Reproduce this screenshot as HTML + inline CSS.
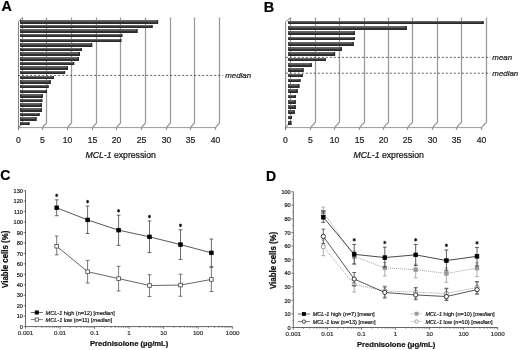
<!DOCTYPE html>
<html><head><meta charset="utf-8"><style>html,body{margin:0;padding:0;background:#fff;}svg text{stroke-width:0.22px;}svg{display:block;will-change:transform;font-family:"Liberation Sans",sans-serif;}</style></head>
<body>
<svg width="520" height="350" viewBox="0 0 520 350" font-family="Liberation Sans, sans-serif">
<defs><filter id="soft" x="0" y="0" width="100%" height="100%" filterUnits="userSpaceOnUse"><feGaussianBlur stdDeviation="0.35"/></filter><linearGradient id="bg" x1="0" y1="0" x2="0" y2="1"><stop offset="0" stop-color="#626262"/><stop offset="0.3" stop-color="#6a6a6a"/><stop offset="0.5" stop-color="#3a3a3a"/><stop offset="0.75" stop-color="#262626"/><stop offset="1" stop-color="#333"/></linearGradient></defs>
<rect width="520" height="350" fill="#fff"/>
<g filter="url(#soft)">
<text x="1.50" y="10.60" font-size="14.3" text-anchor="start" font-weight="bold" font-style="normal" fill="#000" stroke="#000" >A</text>
<text x="263.80" y="12.40" font-size="14.5" text-anchor="start" font-weight="bold" font-style="normal" fill="#000" stroke="#000" >B</text>
<text x="0.20" y="180.10" font-size="14" text-anchor="start" font-weight="bold" font-style="normal" fill="#000" stroke="#000" >C</text>
<text x="266.00" y="180.80" font-size="14" text-anchor="start" font-weight="bold" font-style="normal" fill="#000" stroke="#000" >D</text>
<polyline points="22.50,17.5 22.50,122.9 18.50,127.6 18.50,130.1" fill="none" stroke="#9a9a9a" stroke-width="1.25"/>
<text x="18.50" y="143.00" font-size="8.6" text-anchor="middle" font-weight="normal" font-style="normal" fill="#222" stroke="#222" >0</text>
<polyline points="46.50,17.5 46.50,122.9 42.50,127.6 42.50,130.1" fill="none" stroke="#9a9a9a" stroke-width="1.25"/>
<text x="42.50" y="143.00" font-size="8.6" text-anchor="middle" font-weight="normal" font-style="normal" fill="#222" stroke="#222" >5</text>
<polyline points="71.50,17.5 71.50,122.9 67.50,127.6 67.50,130.1" fill="none" stroke="#9a9a9a" stroke-width="1.25"/>
<text x="67.50" y="143.00" font-size="8.6" text-anchor="middle" font-weight="normal" font-style="normal" fill="#222" stroke="#222" >10</text>
<polyline points="96.50,17.5 96.50,122.9 92.50,127.6 92.50,130.1" fill="none" stroke="#9a9a9a" stroke-width="1.25"/>
<text x="92.50" y="143.00" font-size="8.6" text-anchor="middle" font-weight="normal" font-style="normal" fill="#222" stroke="#222" >15</text>
<polyline points="120.50,17.5 120.50,122.9 116.50,127.6 116.50,130.1" fill="none" stroke="#9a9a9a" stroke-width="1.25"/>
<text x="116.50" y="143.00" font-size="8.6" text-anchor="middle" font-weight="normal" font-style="normal" fill="#222" stroke="#222" >20</text>
<polyline points="145.50,17.5 145.50,122.9 141.50,127.6 141.50,130.1" fill="none" stroke="#9a9a9a" stroke-width="1.25"/>
<text x="141.50" y="143.00" font-size="8.6" text-anchor="middle" font-weight="normal" font-style="normal" fill="#222" stroke="#222" >25</text>
<polyline points="170.50,17.5 170.50,122.9 166.50,127.6 166.50,130.1" fill="none" stroke="#9a9a9a" stroke-width="1.25"/>
<text x="166.50" y="143.00" font-size="8.6" text-anchor="middle" font-weight="normal" font-style="normal" fill="#222" stroke="#222" >30</text>
<polyline points="194.50,17.5 194.50,122.9 190.50,127.6 190.50,130.1" fill="none" stroke="#9a9a9a" stroke-width="1.25"/>
<text x="190.50" y="143.00" font-size="8.6" text-anchor="middle" font-weight="normal" font-style="normal" fill="#222" stroke="#222" >35</text>
<polyline points="219.50,17.5 219.50,122.9 215.50,127.6 215.50,130.1" fill="none" stroke="#9a9a9a" stroke-width="1.25"/>
<text x="215.50" y="143.00" font-size="8.6" text-anchor="middle" font-weight="normal" font-style="normal" fill="#222" stroke="#222" >40</text>
<line x1="18.20" y1="127.60" x2="215.00" y2="127.60" stroke="#9a9a9a" stroke-width="1" />
<polyline points="22.40,17.5 18.50,21.6 18.50,130.1" fill="none" stroke="#777" stroke-width="0.9"/>
<rect x="20.20" y="20" width="137.90" height="4" fill="url(#bg)"/>
<rect x="156.90" y="20" width="1.2" height="4" fill="#2a2a2a"/>
<rect x="20.20" y="20" width="1.0" height="4" fill="#2a2a2a"/>
<rect x="20.20" y="25" width="132.40" height="3" fill="url(#bg)"/>
<rect x="151.40" y="25" width="1.2" height="3" fill="#2a2a2a"/>
<rect x="20.20" y="25" width="1.0" height="3" fill="#2a2a2a"/>
<rect x="20.20" y="29" width="117.30" height="4" fill="url(#bg)"/>
<rect x="136.30" y="29" width="1.2" height="4" fill="#2a2a2a"/>
<rect x="20.20" y="29" width="1.0" height="4" fill="#2a2a2a"/>
<rect x="20.20" y="34" width="102.10" height="3" fill="url(#bg)"/>
<rect x="121.10" y="34" width="1.2" height="3" fill="#2a2a2a"/>
<rect x="20.20" y="34" width="1.0" height="3" fill="#2a2a2a"/>
<rect x="20.20" y="39" width="101.10" height="3" fill="url(#bg)"/>
<rect x="120.10" y="39" width="1.2" height="3" fill="#2a2a2a"/>
<rect x="20.20" y="39" width="1.0" height="3" fill="#2a2a2a"/>
<rect x="20.20" y="43" width="72.00" height="4" fill="url(#bg)"/>
<rect x="91.00" y="43" width="1.2" height="4" fill="#2a2a2a"/>
<rect x="20.20" y="43" width="1.0" height="4" fill="#2a2a2a"/>
<rect x="20.20" y="48" width="61.60" height="3" fill="url(#bg)"/>
<rect x="80.60" y="48" width="1.2" height="3" fill="#2a2a2a"/>
<rect x="20.20" y="48" width="1.0" height="3" fill="#2a2a2a"/>
<rect x="20.20" y="52" width="59.80" height="4" fill="url(#bg)"/>
<rect x="78.80" y="52" width="1.2" height="4" fill="#2a2a2a"/>
<rect x="20.20" y="52" width="1.0" height="4" fill="#2a2a2a"/>
<rect x="20.20" y="57" width="58.80" height="4" fill="url(#bg)"/>
<rect x="77.80" y="57" width="1.2" height="4" fill="#2a2a2a"/>
<rect x="20.20" y="57" width="1.0" height="4" fill="#2a2a2a"/>
<rect x="20.20" y="62" width="54.00" height="3" fill="url(#bg)"/>
<rect x="73.00" y="62" width="1.2" height="3" fill="#2a2a2a"/>
<rect x="20.20" y="62" width="1.0" height="3" fill="#2a2a2a"/>
<rect x="20.20" y="66" width="47.80" height="4" fill="url(#bg)"/>
<rect x="66.80" y="66" width="1.2" height="4" fill="#2a2a2a"/>
<rect x="20.20" y="66" width="1.0" height="4" fill="#2a2a2a"/>
<rect x="20.20" y="71" width="44.90" height="3" fill="url(#bg)"/>
<rect x="63.90" y="71" width="1.2" height="3" fill="#2a2a2a"/>
<rect x="20.20" y="71" width="1.0" height="3" fill="#2a2a2a"/>
<rect x="20.20" y="76" width="33.80" height="3" fill="url(#bg)"/>
<rect x="52.80" y="76" width="1.2" height="3" fill="#2a2a2a"/>
<rect x="20.20" y="76" width="1.0" height="3" fill="#2a2a2a"/>
<rect x="20.20" y="80" width="30.50" height="4" fill="url(#bg)"/>
<rect x="49.50" y="80" width="1.2" height="4" fill="#2a2a2a"/>
<rect x="20.20" y="80" width="1.0" height="4" fill="#2a2a2a"/>
<rect x="20.20" y="85" width="28.40" height="3" fill="url(#bg)"/>
<rect x="47.40" y="85" width="1.2" height="3" fill="#2a2a2a"/>
<rect x="20.20" y="85" width="1.0" height="3" fill="#2a2a2a"/>
<rect x="20.20" y="90" width="26.70" height="3" fill="url(#bg)"/>
<rect x="45.70" y="90" width="1.2" height="3" fill="#2a2a2a"/>
<rect x="20.20" y="90" width="1.0" height="3" fill="#2a2a2a"/>
<rect x="20.20" y="94" width="22.60" height="4" fill="url(#bg)"/>
<rect x="41.60" y="94" width="1.2" height="4" fill="#2a2a2a"/>
<rect x="20.20" y="94" width="1.0" height="4" fill="#2a2a2a"/>
<rect x="20.20" y="99" width="22.10" height="3" fill="url(#bg)"/>
<rect x="41.10" y="99" width="1.2" height="3" fill="#2a2a2a"/>
<rect x="20.20" y="99" width="1.0" height="3" fill="#2a2a2a"/>
<rect x="20.20" y="103" width="21.70" height="4" fill="url(#bg)"/>
<rect x="40.70" y="103" width="1.2" height="4" fill="#2a2a2a"/>
<rect x="20.20" y="103" width="1.0" height="4" fill="#2a2a2a"/>
<rect x="20.20" y="108" width="21.70" height="4" fill="url(#bg)"/>
<rect x="40.70" y="108" width="1.2" height="4" fill="#2a2a2a"/>
<rect x="20.20" y="108" width="1.0" height="4" fill="#2a2a2a"/>
<rect x="20.20" y="113" width="19.40" height="3" fill="url(#bg)"/>
<rect x="38.40" y="113" width="1.2" height="3" fill="#2a2a2a"/>
<rect x="20.20" y="113" width="1.0" height="3" fill="#2a2a2a"/>
<rect x="20.20" y="117" width="16.30" height="4" fill="url(#bg)"/>
<rect x="35.30" y="117" width="1.2" height="4" fill="#2a2a2a"/>
<rect x="20.20" y="117" width="1.0" height="4" fill="#2a2a2a"/>
<rect x="20.20" y="122" width="9.30" height="3" fill="url(#bg)"/>
<rect x="28.30" y="122" width="1.2" height="3" fill="#2a2a2a"/>
<rect x="20.20" y="122" width="1.0" height="3" fill="#2a2a2a"/>
<line x1="18.20" y1="75.4" x2="223.20" y2="75.4" stroke="#333" stroke-width="0.8" stroke-dasharray="2,2"/>
<text x="225.20" y="78.00" font-size="7.9" text-anchor="start" font-weight="normal" font-style="italic" fill="#222" stroke="#222" >median</text>
<text x="85.40" y="158.20" font-size="8.7" text-anchor="start" font-weight="normal" font-style="normal" fill="#111" stroke="#111" ><tspan font-style="italic">MCL-1</tspan> expression</text>
<polyline points="290.50,17.6 290.50,122.3 285.50,127.6 285.50,130.1" fill="none" stroke="#9a9a9a" stroke-width="1.25"/>
<text x="285.50" y="143.00" font-size="8.6" text-anchor="middle" font-weight="normal" font-style="normal" fill="#222" stroke="#222" >0</text>
<polyline points="315.50,17.6 315.50,122.3 310.50,127.6 310.50,130.1" fill="none" stroke="#9a9a9a" stroke-width="1.25"/>
<text x="310.50" y="143.00" font-size="8.6" text-anchor="middle" font-weight="normal" font-style="normal" fill="#222" stroke="#222" >5</text>
<polyline points="339.50,17.6 339.50,122.3 334.50,127.6 334.50,130.1" fill="none" stroke="#9a9a9a" stroke-width="1.25"/>
<text x="334.50" y="143.00" font-size="8.6" text-anchor="middle" font-weight="normal" font-style="normal" fill="#222" stroke="#222" >10</text>
<polyline points="364.50,17.6 364.50,122.3 359.50,127.6 359.50,130.1" fill="none" stroke="#9a9a9a" stroke-width="1.25"/>
<text x="359.50" y="143.00" font-size="8.6" text-anchor="middle" font-weight="normal" font-style="normal" fill="#222" stroke="#222" >15</text>
<polyline points="388.50,17.6 388.50,122.3 383.50,127.6 383.50,130.1" fill="none" stroke="#9a9a9a" stroke-width="1.25"/>
<text x="383.50" y="143.00" font-size="8.6" text-anchor="middle" font-weight="normal" font-style="normal" fill="#222" stroke="#222" >20</text>
<polyline points="412.50,17.6 412.50,122.3 407.50,127.6 407.50,130.1" fill="none" stroke="#9a9a9a" stroke-width="1.25"/>
<text x="407.50" y="143.00" font-size="8.6" text-anchor="middle" font-weight="normal" font-style="normal" fill="#222" stroke="#222" >25</text>
<polyline points="437.50,17.6 437.50,122.3 432.50,127.6 432.50,130.1" fill="none" stroke="#9a9a9a" stroke-width="1.25"/>
<text x="432.50" y="143.00" font-size="8.6" text-anchor="middle" font-weight="normal" font-style="normal" fill="#222" stroke="#222" >30</text>
<polyline points="461.50,17.6 461.50,122.3 456.50,127.6 456.50,130.1" fill="none" stroke="#9a9a9a" stroke-width="1.25"/>
<text x="456.50" y="143.00" font-size="8.6" text-anchor="middle" font-weight="normal" font-style="normal" fill="#222" stroke="#222" >35</text>
<polyline points="486.50,17.6 486.50,122.3 481.50,127.6 481.50,130.1" fill="none" stroke="#9a9a9a" stroke-width="1.25"/>
<text x="481.50" y="143.00" font-size="8.6" text-anchor="middle" font-weight="normal" font-style="normal" fill="#222" stroke="#222" >40</text>
<line x1="285.80" y1="127.60" x2="481.56" y2="127.60" stroke="#9a9a9a" stroke-width="1" />
<polyline points="290.60,17.6 285.60,21.900000000000002 285.60,130.1" fill="none" stroke="#777" stroke-width="0.9"/>
<rect x="288.30" y="21" width="195.30" height="3" fill="url(#bg)"/>
<rect x="482.40" y="21" width="1.2" height="3" fill="#2a2a2a"/>
<rect x="288.30" y="21" width="1.0" height="3" fill="#2a2a2a"/>
<rect x="288.30" y="26" width="118.50" height="4" fill="url(#bg)"/>
<rect x="405.60" y="26" width="1.2" height="4" fill="#2a2a2a"/>
<rect x="288.30" y="26" width="1.0" height="4" fill="#2a2a2a"/>
<rect x="288.30" y="31" width="66.70" height="4" fill="url(#bg)"/>
<rect x="353.80" y="31" width="1.2" height="4" fill="#2a2a2a"/>
<rect x="288.30" y="31" width="1.0" height="4" fill="#2a2a2a"/>
<rect x="288.30" y="37" width="66.70" height="3" fill="url(#bg)"/>
<rect x="353.80" y="37" width="1.2" height="3" fill="#2a2a2a"/>
<rect x="288.30" y="37" width="1.0" height="3" fill="#2a2a2a"/>
<rect x="288.30" y="42" width="65.40" height="4" fill="url(#bg)"/>
<rect x="352.50" y="42" width="1.2" height="4" fill="#2a2a2a"/>
<rect x="288.30" y="42" width="1.0" height="4" fill="#2a2a2a"/>
<rect x="288.30" y="47" width="53.70" height="4" fill="url(#bg)"/>
<rect x="340.80" y="47" width="1.2" height="4" fill="#2a2a2a"/>
<rect x="288.30" y="47" width="1.0" height="4" fill="#2a2a2a"/>
<rect x="288.30" y="52" width="46.80" height="4" fill="url(#bg)"/>
<rect x="333.90" y="52" width="1.2" height="4" fill="#2a2a2a"/>
<rect x="288.30" y="52" width="1.0" height="4" fill="#2a2a2a"/>
<rect x="288.30" y="58" width="37.50" height="3" fill="url(#bg)"/>
<rect x="324.60" y="58" width="1.2" height="3" fill="#2a2a2a"/>
<rect x="288.30" y="58" width="1.0" height="3" fill="#2a2a2a"/>
<rect x="288.30" y="63" width="23.50" height="4" fill="url(#bg)"/>
<rect x="310.60" y="63" width="1.2" height="4" fill="#2a2a2a"/>
<rect x="288.30" y="63" width="1.0" height="4" fill="#2a2a2a"/>
<rect x="288.30" y="68" width="15.30" height="4" fill="url(#bg)"/>
<rect x="302.40" y="68" width="1.2" height="4" fill="#2a2a2a"/>
<rect x="288.30" y="68" width="1.0" height="4" fill="#2a2a2a"/>
<rect x="288.30" y="74" width="14.50" height="3" fill="url(#bg)"/>
<rect x="301.60" y="74" width="1.2" height="3" fill="#2a2a2a"/>
<rect x="288.30" y="74" width="1.0" height="3" fill="#2a2a2a"/>
<rect x="288.30" y="79" width="12.20" height="3" fill="url(#bg)"/>
<rect x="299.30" y="79" width="1.2" height="3" fill="#2a2a2a"/>
<rect x="288.30" y="79" width="1.0" height="3" fill="#2a2a2a"/>
<rect x="288.30" y="84" width="11.10" height="4" fill="url(#bg)"/>
<rect x="298.20" y="84" width="1.2" height="4" fill="#2a2a2a"/>
<rect x="288.30" y="84" width="1.0" height="4" fill="#2a2a2a"/>
<rect x="288.30" y="89" width="9.40" height="4" fill="url(#bg)"/>
<rect x="296.50" y="89" width="1.2" height="4" fill="#2a2a2a"/>
<rect x="288.30" y="89" width="1.0" height="4" fill="#2a2a2a"/>
<rect x="288.30" y="95" width="7.60" height="3" fill="url(#bg)"/>
<rect x="294.70" y="95" width="1.2" height="3" fill="#2a2a2a"/>
<rect x="288.30" y="95" width="1.0" height="3" fill="#2a2a2a"/>
<rect x="288.30" y="100" width="7.50" height="4" fill="url(#bg)"/>
<rect x="294.60" y="100" width="1.2" height="4" fill="#2a2a2a"/>
<rect x="288.30" y="100" width="1.0" height="4" fill="#2a2a2a"/>
<rect x="288.30" y="105" width="7.50" height="4" fill="url(#bg)"/>
<rect x="294.60" y="105" width="1.2" height="4" fill="#2a2a2a"/>
<rect x="288.30" y="105" width="1.0" height="4" fill="#2a2a2a"/>
<rect x="288.30" y="110" width="6.30" height="4" fill="url(#bg)"/>
<rect x="293.40" y="110" width="1.2" height="4" fill="#2a2a2a"/>
<rect x="288.30" y="110" width="1.0" height="4" fill="#2a2a2a"/>
<rect x="288.30" y="116" width="3.70" height="3" fill="url(#bg)"/>
<rect x="290.80" y="116" width="1.2" height="3" fill="#2a2a2a"/>
<rect x="288.30" y="116" width="1.0" height="3" fill="#2a2a2a"/>
<rect x="288.30" y="121" width="3.10" height="4" fill="url(#bg)"/>
<rect x="290.20" y="121" width="1.2" height="4" fill="#2a2a2a"/>
<rect x="288.30" y="121" width="1.0" height="4" fill="#2a2a2a"/>
<line x1="285.80" y1="57.4" x2="490.36" y2="57.4" stroke="#333" stroke-width="0.8" stroke-dasharray="2,2"/>
<text x="492.36" y="60.00" font-size="7.9" text-anchor="start" font-weight="normal" font-style="italic" fill="#222" stroke="#222" >mean</text>
<line x1="285.80" y1="73.2" x2="490.36" y2="73.2" stroke="#333" stroke-width="0.8" stroke-dasharray="2,2"/>
<text x="492.36" y="75.80" font-size="7.9" text-anchor="start" font-weight="normal" font-style="italic" fill="#222" stroke="#222" >median</text>
<text x="353.40" y="158.20" font-size="8.7" text-anchor="start" font-weight="normal" font-style="normal" fill="#111" stroke="#111" ><tspan font-style="italic">MCL-1</tspan> expression</text>
<line x1="25.50" y1="190.62" x2="25.50" y2="326.60" stroke="#555" stroke-width="0.9" />
<line x1="23.70" y1="326.60" x2="25.50" y2="326.60" stroke="#555" stroke-width="0.8" />
<text transform="translate(22.90,328.80) scale(0.9,1)" font-size="6.2" text-anchor="end" fill="#222" stroke="#222">0</text>
<line x1="23.70" y1="316.14" x2="25.50" y2="316.14" stroke="#555" stroke-width="0.8" />
<text transform="translate(22.90,318.34) scale(0.9,1)" font-size="6.2" text-anchor="end" fill="#222" stroke="#222">10</text>
<line x1="23.70" y1="305.68" x2="25.50" y2="305.68" stroke="#555" stroke-width="0.8" />
<text transform="translate(22.90,307.88) scale(0.9,1)" font-size="6.2" text-anchor="end" fill="#222" stroke="#222">20</text>
<line x1="23.70" y1="295.22" x2="25.50" y2="295.22" stroke="#555" stroke-width="0.8" />
<text transform="translate(22.90,297.42) scale(0.9,1)" font-size="6.2" text-anchor="end" fill="#222" stroke="#222">30</text>
<line x1="23.70" y1="284.76" x2="25.50" y2="284.76" stroke="#555" stroke-width="0.8" />
<text transform="translate(22.90,286.96) scale(0.9,1)" font-size="6.2" text-anchor="end" fill="#222" stroke="#222">40</text>
<line x1="23.70" y1="274.30" x2="25.50" y2="274.30" stroke="#555" stroke-width="0.8" />
<text transform="translate(22.90,276.50) scale(0.9,1)" font-size="6.2" text-anchor="end" fill="#222" stroke="#222">50</text>
<line x1="23.70" y1="263.84" x2="25.50" y2="263.84" stroke="#555" stroke-width="0.8" />
<text transform="translate(22.90,266.04) scale(0.9,1)" font-size="6.2" text-anchor="end" fill="#222" stroke="#222">60</text>
<line x1="23.70" y1="253.38" x2="25.50" y2="253.38" stroke="#555" stroke-width="0.8" />
<text transform="translate(22.90,255.58) scale(0.9,1)" font-size="6.2" text-anchor="end" fill="#222" stroke="#222">70</text>
<line x1="23.70" y1="242.92" x2="25.50" y2="242.92" stroke="#555" stroke-width="0.8" />
<text transform="translate(22.90,245.12) scale(0.9,1)" font-size="6.2" text-anchor="end" fill="#222" stroke="#222">80</text>
<line x1="23.70" y1="232.46" x2="25.50" y2="232.46" stroke="#555" stroke-width="0.8" />
<text transform="translate(22.90,234.66) scale(0.9,1)" font-size="6.2" text-anchor="end" fill="#222" stroke="#222">90</text>
<line x1="23.70" y1="222.00" x2="25.50" y2="222.00" stroke="#555" stroke-width="0.8" />
<text transform="translate(22.90,224.20) scale(0.9,1)" font-size="6.2" text-anchor="end" fill="#222" stroke="#222">100</text>
<line x1="23.70" y1="211.54" x2="25.50" y2="211.54" stroke="#555" stroke-width="0.8" />
<text transform="translate(22.90,213.74) scale(0.9,1)" font-size="6.2" text-anchor="end" fill="#222" stroke="#222">110</text>
<line x1="23.70" y1="201.08" x2="25.50" y2="201.08" stroke="#555" stroke-width="0.8" />
<text transform="translate(22.90,203.28) scale(0.9,1)" font-size="6.2" text-anchor="end" fill="#222" stroke="#222">120</text>
<line x1="23.70" y1="190.62" x2="25.50" y2="190.62" stroke="#555" stroke-width="0.8" />
<text transform="translate(22.90,192.82) scale(0.9,1)" font-size="6.2" text-anchor="end" fill="#222" stroke="#222">130</text>
<line x1="25.50" y1="326.60" x2="232.50" y2="326.60" stroke="#555" stroke-width="0.9" />
<line x1="25.50" y1="326.60" x2="25.50" y2="328.80" stroke="#555" stroke-width="0.8" />
<text x="25.50" y="335.40" font-size="6.2" text-anchor="middle" font-weight="normal" font-style="normal" fill="#333" stroke="#333" >0.001</text>
<line x1="35.89" y1="326.60" x2="35.89" y2="327.90" stroke="#555" stroke-width="0.6" />
<line x1="41.97" y1="326.60" x2="41.97" y2="327.90" stroke="#555" stroke-width="0.6" />
<line x1="46.28" y1="326.60" x2="46.28" y2="327.90" stroke="#555" stroke-width="0.6" />
<line x1="49.63" y1="326.60" x2="49.63" y2="327.90" stroke="#555" stroke-width="0.6" />
<line x1="52.36" y1="326.60" x2="52.36" y2="327.90" stroke="#555" stroke-width="0.6" />
<line x1="54.67" y1="326.60" x2="54.67" y2="327.90" stroke="#555" stroke-width="0.6" />
<line x1="56.67" y1="326.60" x2="56.67" y2="327.90" stroke="#555" stroke-width="0.6" />
<line x1="58.44" y1="326.60" x2="58.44" y2="327.90" stroke="#555" stroke-width="0.6" />
<line x1="60.02" y1="326.60" x2="60.02" y2="328.80" stroke="#555" stroke-width="0.8" />
<text x="60.02" y="335.40" font-size="6.2" text-anchor="middle" font-weight="normal" font-style="normal" fill="#333" stroke="#333" >0.01</text>
<line x1="70.41" y1="326.60" x2="70.41" y2="327.90" stroke="#555" stroke-width="0.6" />
<line x1="76.49" y1="326.60" x2="76.49" y2="327.90" stroke="#555" stroke-width="0.6" />
<line x1="80.80" y1="326.60" x2="80.80" y2="327.90" stroke="#555" stroke-width="0.6" />
<line x1="84.15" y1="326.60" x2="84.15" y2="327.90" stroke="#555" stroke-width="0.6" />
<line x1="86.88" y1="326.60" x2="86.88" y2="327.90" stroke="#555" stroke-width="0.6" />
<line x1="89.19" y1="326.60" x2="89.19" y2="327.90" stroke="#555" stroke-width="0.6" />
<line x1="91.19" y1="326.60" x2="91.19" y2="327.90" stroke="#555" stroke-width="0.6" />
<line x1="92.96" y1="326.60" x2="92.96" y2="327.90" stroke="#555" stroke-width="0.6" />
<line x1="94.54" y1="326.60" x2="94.54" y2="328.80" stroke="#555" stroke-width="0.8" />
<text x="94.54" y="335.40" font-size="6.2" text-anchor="middle" font-weight="normal" font-style="normal" fill="#333" stroke="#333" >0.1</text>
<line x1="104.93" y1="326.60" x2="104.93" y2="327.90" stroke="#555" stroke-width="0.6" />
<line x1="111.01" y1="326.60" x2="111.01" y2="327.90" stroke="#555" stroke-width="0.6" />
<line x1="115.32" y1="326.60" x2="115.32" y2="327.90" stroke="#555" stroke-width="0.6" />
<line x1="118.67" y1="326.60" x2="118.67" y2="327.90" stroke="#555" stroke-width="0.6" />
<line x1="121.40" y1="326.60" x2="121.40" y2="327.90" stroke="#555" stroke-width="0.6" />
<line x1="123.71" y1="326.60" x2="123.71" y2="327.90" stroke="#555" stroke-width="0.6" />
<line x1="125.71" y1="326.60" x2="125.71" y2="327.90" stroke="#555" stroke-width="0.6" />
<line x1="127.48" y1="326.60" x2="127.48" y2="327.90" stroke="#555" stroke-width="0.6" />
<line x1="129.06" y1="326.60" x2="129.06" y2="328.80" stroke="#555" stroke-width="0.8" />
<text x="129.06" y="335.40" font-size="6.2" text-anchor="middle" font-weight="normal" font-style="normal" fill="#333" stroke="#333" >1</text>
<line x1="139.45" y1="326.60" x2="139.45" y2="327.90" stroke="#555" stroke-width="0.6" />
<line x1="145.53" y1="326.60" x2="145.53" y2="327.90" stroke="#555" stroke-width="0.6" />
<line x1="149.84" y1="326.60" x2="149.84" y2="327.90" stroke="#555" stroke-width="0.6" />
<line x1="153.19" y1="326.60" x2="153.19" y2="327.90" stroke="#555" stroke-width="0.6" />
<line x1="155.92" y1="326.60" x2="155.92" y2="327.90" stroke="#555" stroke-width="0.6" />
<line x1="158.23" y1="326.60" x2="158.23" y2="327.90" stroke="#555" stroke-width="0.6" />
<line x1="160.23" y1="326.60" x2="160.23" y2="327.90" stroke="#555" stroke-width="0.6" />
<line x1="162.00" y1="326.60" x2="162.00" y2="327.90" stroke="#555" stroke-width="0.6" />
<line x1="163.58" y1="326.60" x2="163.58" y2="328.80" stroke="#555" stroke-width="0.8" />
<text x="163.58" y="335.40" font-size="6.2" text-anchor="middle" font-weight="normal" font-style="normal" fill="#333" stroke="#333" >10</text>
<line x1="173.97" y1="326.60" x2="173.97" y2="327.90" stroke="#555" stroke-width="0.6" />
<line x1="180.05" y1="326.60" x2="180.05" y2="327.90" stroke="#555" stroke-width="0.6" />
<line x1="184.36" y1="326.60" x2="184.36" y2="327.90" stroke="#555" stroke-width="0.6" />
<line x1="187.71" y1="326.60" x2="187.71" y2="327.90" stroke="#555" stroke-width="0.6" />
<line x1="190.44" y1="326.60" x2="190.44" y2="327.90" stroke="#555" stroke-width="0.6" />
<line x1="192.75" y1="326.60" x2="192.75" y2="327.90" stroke="#555" stroke-width="0.6" />
<line x1="194.75" y1="326.60" x2="194.75" y2="327.90" stroke="#555" stroke-width="0.6" />
<line x1="196.52" y1="326.60" x2="196.52" y2="327.90" stroke="#555" stroke-width="0.6" />
<line x1="198.10" y1="326.60" x2="198.10" y2="328.80" stroke="#555" stroke-width="0.8" />
<text x="198.10" y="335.40" font-size="6.2" text-anchor="middle" font-weight="normal" font-style="normal" fill="#333" stroke="#333" >100</text>
<line x1="208.49" y1="326.60" x2="208.49" y2="327.90" stroke="#555" stroke-width="0.6" />
<line x1="214.57" y1="326.60" x2="214.57" y2="327.90" stroke="#555" stroke-width="0.6" />
<line x1="218.88" y1="326.60" x2="218.88" y2="327.90" stroke="#555" stroke-width="0.6" />
<line x1="222.23" y1="326.60" x2="222.23" y2="327.90" stroke="#555" stroke-width="0.6" />
<line x1="224.96" y1="326.60" x2="224.96" y2="327.90" stroke="#555" stroke-width="0.6" />
<line x1="227.27" y1="326.60" x2="227.27" y2="327.90" stroke="#555" stroke-width="0.6" />
<line x1="229.27" y1="326.60" x2="229.27" y2="327.90" stroke="#555" stroke-width="0.6" />
<line x1="231.04" y1="326.60" x2="231.04" y2="327.90" stroke="#555" stroke-width="0.6" />
<line x1="232.62" y1="326.60" x2="232.62" y2="328.80" stroke="#555" stroke-width="0.8" />
<text x="232.62" y="335.40" font-size="6.2" text-anchor="middle" font-weight="normal" font-style="normal" fill="#333" stroke="#333" >1000</text>
<text x="90.00" y="345.80" font-size="7.65" text-anchor="start" font-weight="bold" font-style="normal" fill="#111" stroke="#111" >Prednisolone (<tspan font-family="Liberation Sans">&#181;</tspan>g/mL)</text>
<text transform="translate(5.5,259.3) rotate(-90) scale(1,1.05)" font-size="7.9" font-weight="bold" text-anchor="middle" fill="#111" stroke="#111" y="2.5">Viable cells (%)</text>
<polyline points="56.70,246.27 87.60,271.69 118.60,278.59 149.50,285.49 180.50,285.07 211.40,279.43" fill="none" stroke="#555" stroke-width="0.9" />
<line x1="56.70" y1="236.02" x2="56.70" y2="254.84" stroke="#555" stroke-width="0.8" />
<line x1="54.80" y1="236.02" x2="58.60" y2="236.02" stroke="#555" stroke-width="0.8" />
<line x1="54.80" y1="254.84" x2="58.60" y2="254.84" stroke="#555" stroke-width="0.8" />
<line x1="87.60" y1="260.39" x2="87.60" y2="282.98" stroke="#555" stroke-width="0.8" />
<line x1="85.70" y1="260.39" x2="89.50" y2="260.39" stroke="#555" stroke-width="0.8" />
<line x1="85.70" y1="282.98" x2="89.50" y2="282.98" stroke="#555" stroke-width="0.8" />
<line x1="118.60" y1="266.25" x2="118.60" y2="290.93" stroke="#555" stroke-width="0.8" />
<line x1="116.70" y1="266.25" x2="120.50" y2="266.25" stroke="#555" stroke-width="0.8" />
<line x1="116.70" y1="290.93" x2="120.50" y2="290.93" stroke="#555" stroke-width="0.8" />
<line x1="149.50" y1="274.72" x2="149.50" y2="296.48" stroke="#555" stroke-width="0.8" />
<line x1="147.60" y1="274.72" x2="151.40" y2="274.72" stroke="#555" stroke-width="0.8" />
<line x1="147.60" y1="296.48" x2="151.40" y2="296.48" stroke="#555" stroke-width="0.8" />
<line x1="180.50" y1="274.20" x2="180.50" y2="296.27" stroke="#555" stroke-width="0.8" />
<line x1="178.60" y1="274.20" x2="182.40" y2="274.20" stroke="#555" stroke-width="0.8" />
<line x1="178.60" y1="296.27" x2="182.40" y2="296.27" stroke="#555" stroke-width="0.8" />
<line x1="211.40" y1="267.61" x2="211.40" y2="291.56" stroke="#555" stroke-width="0.8" />
<line x1="209.50" y1="267.61" x2="213.30" y2="267.61" stroke="#555" stroke-width="0.8" />
<line x1="209.50" y1="291.56" x2="213.30" y2="291.56" stroke="#555" stroke-width="0.8" />
<rect x="54.90" y="244.47" width="3.6" height="3.6" fill="#fff" stroke="#444" stroke-width="0.8"/>
<rect x="85.80" y="269.88" width="3.6" height="3.6" fill="#fff" stroke="#444" stroke-width="0.8"/>
<rect x="116.80" y="276.79" width="3.6" height="3.6" fill="#fff" stroke="#444" stroke-width="0.8"/>
<rect x="147.70" y="283.69" width="3.6" height="3.6" fill="#fff" stroke="#444" stroke-width="0.8"/>
<rect x="178.70" y="283.27" width="3.6" height="3.6" fill="#fff" stroke="#444" stroke-width="0.8"/>
<rect x="209.60" y="277.63" width="3.6" height="3.6" fill="#fff" stroke="#444" stroke-width="0.8"/>
<polyline points="56.70,207.77 87.60,219.91 118.60,230.16 149.50,236.85 180.50,244.59 211.40,252.86" fill="none" stroke="#444" stroke-width="0.9" />
<line x1="56.70" y1="199.82" x2="56.70" y2="215.72" stroke="#444" stroke-width="0.8" />
<line x1="54.80" y1="199.82" x2="58.60" y2="199.82" stroke="#444" stroke-width="0.8" />
<line x1="54.80" y1="215.72" x2="58.60" y2="215.72" stroke="#444" stroke-width="0.8" />
<line x1="87.60" y1="206.00" x2="87.60" y2="233.51" stroke="#444" stroke-width="0.8" />
<line x1="85.70" y1="206.00" x2="89.50" y2="206.00" stroke="#444" stroke-width="0.8" />
<line x1="85.70" y1="233.51" x2="89.50" y2="233.51" stroke="#444" stroke-width="0.8" />
<line x1="118.60" y1="215.20" x2="118.60" y2="245.33" stroke="#444" stroke-width="0.8" />
<line x1="116.70" y1="215.20" x2="120.50" y2="215.20" stroke="#444" stroke-width="0.8" />
<line x1="116.70" y1="245.33" x2="120.50" y2="245.33" stroke="#444" stroke-width="0.8" />
<line x1="149.50" y1="220.95" x2="149.50" y2="252.54" stroke="#444" stroke-width="0.8" />
<line x1="147.60" y1="220.95" x2="151.40" y2="220.95" stroke="#444" stroke-width="0.8" />
<line x1="147.60" y1="252.54" x2="151.40" y2="252.54" stroke="#444" stroke-width="0.8" />
<line x1="180.50" y1="229.74" x2="180.50" y2="259.45" stroke="#444" stroke-width="0.8" />
<line x1="178.60" y1="229.74" x2="182.40" y2="229.74" stroke="#444" stroke-width="0.8" />
<line x1="178.60" y1="259.45" x2="182.40" y2="259.45" stroke="#444" stroke-width="0.8" />
<line x1="211.40" y1="239.05" x2="211.40" y2="266.66" stroke="#444" stroke-width="0.8" />
<line x1="209.50" y1="239.05" x2="213.30" y2="239.05" stroke="#444" stroke-width="0.8" />
<line x1="209.50" y1="266.66" x2="213.30" y2="266.66" stroke="#444" stroke-width="0.8" />
<rect x="54.90" y="205.97" width="3.6" height="3.6" fill="#000" stroke="#000" stroke-width="0.8"/>
<rect x="85.80" y="218.11" width="3.6" height="3.6" fill="#000" stroke="#000" stroke-width="0.8"/>
<rect x="116.80" y="228.36" width="3.6" height="3.6" fill="#000" stroke="#000" stroke-width="0.8"/>
<rect x="147.70" y="235.05" width="3.6" height="3.6" fill="#000" stroke="#000" stroke-width="0.8"/>
<rect x="178.70" y="242.79" width="3.6" height="3.6" fill="#000" stroke="#000" stroke-width="0.8"/>
<rect x="209.60" y="251.06" width="3.6" height="3.6" fill="#000" stroke="#000" stroke-width="0.8"/>
<path d="M56.70,193.72L56.70,197.12M55.23,194.57L58.17,196.27M55.23,196.27L58.17,194.57" stroke="#111" stroke-width="0.95" fill="none"/>
<circle cx="56.70" cy="195.42" r="0.8" fill="#000"/>
<path d="M87.60,199.90L87.60,203.30M86.13,200.75L89.07,202.45M86.13,202.45L89.07,200.75" stroke="#111" stroke-width="0.95" fill="none"/>
<circle cx="87.60" cy="201.60" r="0.8" fill="#000"/>
<path d="M118.60,209.10L118.60,212.50M117.13,209.95L120.07,211.65M117.13,211.65L120.07,209.95" stroke="#111" stroke-width="0.95" fill="none"/>
<circle cx="118.60" cy="210.80" r="0.8" fill="#000"/>
<path d="M149.50,214.85L149.50,218.25M148.03,215.70L150.97,217.40M148.03,217.40L150.97,215.70" stroke="#111" stroke-width="0.95" fill="none"/>
<circle cx="149.50" cy="216.55" r="0.8" fill="#000"/>
<path d="M180.50,223.64L180.50,227.04M179.03,224.49L181.97,226.19M179.03,226.19L181.97,224.49" stroke="#111" stroke-width="0.95" fill="none"/>
<circle cx="180.50" cy="225.34" r="0.8" fill="#000"/>
<line x1="30.80" y1="312.5" x2="42.80" y2="312.5" stroke="#444" stroke-width="0.8" />
<rect x="35.20" y="310.90" width="3.2" height="3.2" fill="#000" stroke="#000" stroke-width="0.8"/>
<text x="45.60" y="314.50" font-size="5.55" text-anchor="start" font-weight="normal" font-style="normal" fill="#222" stroke="#222" ><tspan font-style="italic">MCL-1</tspan> high (n=12) [<tspan font-style="italic">median</tspan>]</text>
<line x1="30.80" y1="319.6" x2="42.80" y2="319.6" stroke="#555" stroke-width="0.8" />
<rect x="35.20" y="318.00" width="3.2" height="3.2" fill="#fff" stroke="#444" stroke-width="0.8"/>
<text x="45.60" y="321.60" font-size="5.55" text-anchor="start" font-weight="normal" font-style="normal" fill="#222" stroke="#222" ><tspan font-style="italic">MCL-1</tspan> low (n=11) [<tspan font-style="italic">median</tspan>]</text>
<line x1="293.30" y1="191.70" x2="293.30" y2="327.50" stroke="#555" stroke-width="0.9" />
<line x1="291.50" y1="327.50" x2="293.30" y2="327.50" stroke="#555" stroke-width="0.8" />
<text transform="translate(290.70,329.70) scale(0.9,1)" font-size="6.2" text-anchor="end" fill="#222" stroke="#222">0</text>
<line x1="291.50" y1="313.92" x2="293.30" y2="313.92" stroke="#555" stroke-width="0.8" />
<text transform="translate(290.70,316.12) scale(0.9,1)" font-size="6.2" text-anchor="end" fill="#222" stroke="#222">10</text>
<line x1="291.50" y1="300.34" x2="293.30" y2="300.34" stroke="#555" stroke-width="0.8" />
<text transform="translate(290.70,302.54) scale(0.9,1)" font-size="6.2" text-anchor="end" fill="#222" stroke="#222">20</text>
<line x1="291.50" y1="286.76" x2="293.30" y2="286.76" stroke="#555" stroke-width="0.8" />
<text transform="translate(290.70,288.96) scale(0.9,1)" font-size="6.2" text-anchor="end" fill="#222" stroke="#222">30</text>
<line x1="291.50" y1="273.18" x2="293.30" y2="273.18" stroke="#555" stroke-width="0.8" />
<text transform="translate(290.70,275.38) scale(0.9,1)" font-size="6.2" text-anchor="end" fill="#222" stroke="#222">40</text>
<line x1="291.50" y1="259.60" x2="293.30" y2="259.60" stroke="#555" stroke-width="0.8" />
<text transform="translate(290.70,261.80) scale(0.9,1)" font-size="6.2" text-anchor="end" fill="#222" stroke="#222">50</text>
<line x1="291.50" y1="246.02" x2="293.30" y2="246.02" stroke="#555" stroke-width="0.8" />
<text transform="translate(290.70,248.22) scale(0.9,1)" font-size="6.2" text-anchor="end" fill="#222" stroke="#222">60</text>
<line x1="291.50" y1="232.44" x2="293.30" y2="232.44" stroke="#555" stroke-width="0.8" />
<text transform="translate(290.70,234.64) scale(0.9,1)" font-size="6.2" text-anchor="end" fill="#222" stroke="#222">70</text>
<line x1="291.50" y1="218.86" x2="293.30" y2="218.86" stroke="#555" stroke-width="0.8" />
<text transform="translate(290.70,221.06) scale(0.9,1)" font-size="6.2" text-anchor="end" fill="#222" stroke="#222">80</text>
<line x1="291.50" y1="205.28" x2="293.30" y2="205.28" stroke="#555" stroke-width="0.8" />
<text transform="translate(290.70,207.48) scale(0.9,1)" font-size="6.2" text-anchor="end" fill="#222" stroke="#222">90</text>
<line x1="291.50" y1="191.70" x2="293.30" y2="191.70" stroke="#555" stroke-width="0.8" />
<text transform="translate(290.70,193.90) scale(0.9,1)" font-size="6.2" text-anchor="end" fill="#222" stroke="#222">100</text>
<line x1="292.30" y1="320.71" x2="293.30" y2="320.71" stroke="#555" stroke-width="0.6" />
<line x1="292.30" y1="307.13" x2="293.30" y2="307.13" stroke="#555" stroke-width="0.6" />
<line x1="292.30" y1="293.55" x2="293.30" y2="293.55" stroke="#555" stroke-width="0.6" />
<line x1="292.30" y1="279.97" x2="293.30" y2="279.97" stroke="#555" stroke-width="0.6" />
<line x1="292.30" y1="266.39" x2="293.30" y2="266.39" stroke="#555" stroke-width="0.6" />
<line x1="292.30" y1="252.81" x2="293.30" y2="252.81" stroke="#555" stroke-width="0.6" />
<line x1="292.30" y1="239.23" x2="293.30" y2="239.23" stroke="#555" stroke-width="0.6" />
<line x1="292.30" y1="225.65" x2="293.30" y2="225.65" stroke="#555" stroke-width="0.6" />
<line x1="292.30" y1="212.07" x2="293.30" y2="212.07" stroke="#555" stroke-width="0.6" />
<line x1="292.30" y1="198.49" x2="293.30" y2="198.49" stroke="#555" stroke-width="0.6" />
<line x1="293.30" y1="327.50" x2="497.70" y2="327.50" stroke="#555" stroke-width="0.9" />
<line x1="293.30" y1="327.50" x2="293.30" y2="329.70" stroke="#555" stroke-width="0.8" />
<text x="293.30" y="336.30" font-size="6.2" text-anchor="middle" font-weight="normal" font-style="normal" fill="#333" stroke="#333" >0.001</text>
<line x1="303.56" y1="327.50" x2="303.56" y2="328.80" stroke="#555" stroke-width="0.6" />
<line x1="309.56" y1="327.50" x2="309.56" y2="328.80" stroke="#555" stroke-width="0.6" />
<line x1="313.81" y1="327.50" x2="313.81" y2="328.80" stroke="#555" stroke-width="0.6" />
<line x1="317.11" y1="327.50" x2="317.11" y2="328.80" stroke="#555" stroke-width="0.6" />
<line x1="319.81" y1="327.50" x2="319.81" y2="328.80" stroke="#555" stroke-width="0.6" />
<line x1="322.09" y1="327.50" x2="322.09" y2="328.80" stroke="#555" stroke-width="0.6" />
<line x1="324.07" y1="327.50" x2="324.07" y2="328.80" stroke="#555" stroke-width="0.6" />
<line x1="325.81" y1="327.50" x2="325.81" y2="328.80" stroke="#555" stroke-width="0.6" />
<line x1="327.37" y1="327.50" x2="327.37" y2="329.70" stroke="#555" stroke-width="0.8" />
<text x="327.37" y="336.30" font-size="6.2" text-anchor="middle" font-weight="normal" font-style="normal" fill="#333" stroke="#333" >0.01</text>
<line x1="337.63" y1="327.50" x2="337.63" y2="328.80" stroke="#555" stroke-width="0.6" />
<line x1="343.63" y1="327.50" x2="343.63" y2="328.80" stroke="#555" stroke-width="0.6" />
<line x1="347.88" y1="327.50" x2="347.88" y2="328.80" stroke="#555" stroke-width="0.6" />
<line x1="351.18" y1="327.50" x2="351.18" y2="328.80" stroke="#555" stroke-width="0.6" />
<line x1="353.88" y1="327.50" x2="353.88" y2="328.80" stroke="#555" stroke-width="0.6" />
<line x1="356.16" y1="327.50" x2="356.16" y2="328.80" stroke="#555" stroke-width="0.6" />
<line x1="358.14" y1="327.50" x2="358.14" y2="328.80" stroke="#555" stroke-width="0.6" />
<line x1="359.88" y1="327.50" x2="359.88" y2="328.80" stroke="#555" stroke-width="0.6" />
<line x1="361.44" y1="327.50" x2="361.44" y2="329.70" stroke="#555" stroke-width="0.8" />
<text x="361.44" y="336.30" font-size="6.2" text-anchor="middle" font-weight="normal" font-style="normal" fill="#333" stroke="#333" >0.1</text>
<line x1="371.70" y1="327.50" x2="371.70" y2="328.80" stroke="#555" stroke-width="0.6" />
<line x1="377.70" y1="327.50" x2="377.70" y2="328.80" stroke="#555" stroke-width="0.6" />
<line x1="381.95" y1="327.50" x2="381.95" y2="328.80" stroke="#555" stroke-width="0.6" />
<line x1="385.25" y1="327.50" x2="385.25" y2="328.80" stroke="#555" stroke-width="0.6" />
<line x1="387.95" y1="327.50" x2="387.95" y2="328.80" stroke="#555" stroke-width="0.6" />
<line x1="390.23" y1="327.50" x2="390.23" y2="328.80" stroke="#555" stroke-width="0.6" />
<line x1="392.21" y1="327.50" x2="392.21" y2="328.80" stroke="#555" stroke-width="0.6" />
<line x1="393.95" y1="327.50" x2="393.95" y2="328.80" stroke="#555" stroke-width="0.6" />
<line x1="395.51" y1="327.50" x2="395.51" y2="329.70" stroke="#555" stroke-width="0.8" />
<text x="395.51" y="336.30" font-size="6.2" text-anchor="middle" font-weight="normal" font-style="normal" fill="#333" stroke="#333" >1</text>
<line x1="405.77" y1="327.50" x2="405.77" y2="328.80" stroke="#555" stroke-width="0.6" />
<line x1="411.77" y1="327.50" x2="411.77" y2="328.80" stroke="#555" stroke-width="0.6" />
<line x1="416.02" y1="327.50" x2="416.02" y2="328.80" stroke="#555" stroke-width="0.6" />
<line x1="419.32" y1="327.50" x2="419.32" y2="328.80" stroke="#555" stroke-width="0.6" />
<line x1="422.02" y1="327.50" x2="422.02" y2="328.80" stroke="#555" stroke-width="0.6" />
<line x1="424.30" y1="327.50" x2="424.30" y2="328.80" stroke="#555" stroke-width="0.6" />
<line x1="426.28" y1="327.50" x2="426.28" y2="328.80" stroke="#555" stroke-width="0.6" />
<line x1="428.02" y1="327.50" x2="428.02" y2="328.80" stroke="#555" stroke-width="0.6" />
<line x1="429.58" y1="327.50" x2="429.58" y2="329.70" stroke="#555" stroke-width="0.8" />
<text x="429.58" y="336.30" font-size="6.2" text-anchor="middle" font-weight="normal" font-style="normal" fill="#333" stroke="#333" >10</text>
<line x1="439.84" y1="327.50" x2="439.84" y2="328.80" stroke="#555" stroke-width="0.6" />
<line x1="445.84" y1="327.50" x2="445.84" y2="328.80" stroke="#555" stroke-width="0.6" />
<line x1="450.09" y1="327.50" x2="450.09" y2="328.80" stroke="#555" stroke-width="0.6" />
<line x1="453.39" y1="327.50" x2="453.39" y2="328.80" stroke="#555" stroke-width="0.6" />
<line x1="456.09" y1="327.50" x2="456.09" y2="328.80" stroke="#555" stroke-width="0.6" />
<line x1="458.37" y1="327.50" x2="458.37" y2="328.80" stroke="#555" stroke-width="0.6" />
<line x1="460.35" y1="327.50" x2="460.35" y2="328.80" stroke="#555" stroke-width="0.6" />
<line x1="462.09" y1="327.50" x2="462.09" y2="328.80" stroke="#555" stroke-width="0.6" />
<line x1="463.65" y1="327.50" x2="463.65" y2="329.70" stroke="#555" stroke-width="0.8" />
<text x="463.65" y="336.30" font-size="6.2" text-anchor="middle" font-weight="normal" font-style="normal" fill="#333" stroke="#333" >100</text>
<line x1="473.91" y1="327.50" x2="473.91" y2="328.80" stroke="#555" stroke-width="0.6" />
<line x1="479.91" y1="327.50" x2="479.91" y2="328.80" stroke="#555" stroke-width="0.6" />
<line x1="484.16" y1="327.50" x2="484.16" y2="328.80" stroke="#555" stroke-width="0.6" />
<line x1="487.46" y1="327.50" x2="487.46" y2="328.80" stroke="#555" stroke-width="0.6" />
<line x1="490.16" y1="327.50" x2="490.16" y2="328.80" stroke="#555" stroke-width="0.6" />
<line x1="492.44" y1="327.50" x2="492.44" y2="328.80" stroke="#555" stroke-width="0.6" />
<line x1="494.42" y1="327.50" x2="494.42" y2="328.80" stroke="#555" stroke-width="0.6" />
<line x1="496.16" y1="327.50" x2="496.16" y2="328.80" stroke="#555" stroke-width="0.6" />
<line x1="497.72" y1="327.50" x2="497.72" y2="329.70" stroke="#555" stroke-width="0.8" />
<text x="497.72" y="336.30" font-size="6.2" text-anchor="middle" font-weight="normal" font-style="normal" fill="#333" stroke="#333" >1000</text>
<text x="357.00" y="346.70" font-size="7.65" text-anchor="start" font-weight="bold" font-style="normal" fill="#111" stroke="#111" >Prednisolone (<tspan font-family="Liberation Sans">&#181;</tspan>g/mL)</text>
<text transform="translate(273.3,260.4) rotate(-90) scale(1,1.05)" font-size="7.9" font-weight="bold" text-anchor="middle" fill="#111" stroke="#111" y="2.5">Viable cells (%)</text>
<polyline points="323.30,246.70 354.20,284.45 384.80,290.83 415.70,292.19 446.40,293.55 477.00,287.44" fill="none" stroke="#999" stroke-width="0.9" stroke-dasharray="1,1"/>
<line x1="323.30" y1="239.91" x2="323.30" y2="255.66" stroke="#999" stroke-width="0.8" />
<line x1="321.40" y1="239.91" x2="325.20" y2="239.91" stroke="#999" stroke-width="0.8" />
<line x1="321.40" y1="255.66" x2="325.20" y2="255.66" stroke="#999" stroke-width="0.8" />
<line x1="354.20" y1="279.02" x2="354.20" y2="292.06" stroke="#999" stroke-width="0.8" />
<line x1="352.30" y1="279.02" x2="356.10" y2="279.02" stroke="#999" stroke-width="0.8" />
<line x1="352.30" y1="292.06" x2="356.10" y2="292.06" stroke="#999" stroke-width="0.8" />
<line x1="384.80" y1="286.08" x2="384.80" y2="296.94" stroke="#999" stroke-width="0.8" />
<line x1="382.90" y1="286.08" x2="386.70" y2="286.08" stroke="#999" stroke-width="0.8" />
<line x1="382.90" y1="296.94" x2="386.70" y2="296.94" stroke="#999" stroke-width="0.8" />
<line x1="415.70" y1="287.44" x2="415.70" y2="298.30" stroke="#999" stroke-width="0.8" />
<line x1="413.80" y1="287.44" x2="417.60" y2="287.44" stroke="#999" stroke-width="0.8" />
<line x1="413.80" y1="298.30" x2="417.60" y2="298.30" stroke="#999" stroke-width="0.8" />
<line x1="446.40" y1="288.80" x2="446.40" y2="299.66" stroke="#999" stroke-width="0.8" />
<line x1="444.50" y1="288.80" x2="448.30" y2="288.80" stroke="#999" stroke-width="0.8" />
<line x1="444.50" y1="299.66" x2="448.30" y2="299.66" stroke="#999" stroke-width="0.8" />
<line x1="477.00" y1="282.01" x2="477.00" y2="293.55" stroke="#999" stroke-width="0.8" />
<line x1="475.10" y1="282.01" x2="478.90" y2="282.01" stroke="#999" stroke-width="0.8" />
<line x1="475.10" y1="293.55" x2="478.90" y2="293.55" stroke="#999" stroke-width="0.8" />
<circle cx="323.30" cy="246.70" r="2.1" fill="#fff" stroke="#999" stroke-width="1.0"/>
<circle cx="354.20" cy="284.45" r="2.1" fill="#fff" stroke="#999" stroke-width="1.0"/>
<circle cx="384.80" cy="290.83" r="2.1" fill="#fff" stroke="#999" stroke-width="1.0"/>
<circle cx="415.70" cy="292.19" r="2.1" fill="#fff" stroke="#999" stroke-width="1.0"/>
<circle cx="446.40" cy="293.55" r="2.1" fill="#fff" stroke="#999" stroke-width="1.0"/>
<circle cx="477.00" cy="287.44" r="2.1" fill="#fff" stroke="#999" stroke-width="1.0"/>
<polyline points="323.30,212.07 354.20,256.48 384.80,267.88 415.70,269.65 446.40,273.45 477.00,268.16" fill="none" stroke="#999" stroke-width="0.9" stroke-dasharray="1,1"/>
<line x1="323.30" y1="207.05" x2="323.30" y2="217.50" stroke="#999" stroke-width="0.8" />
<line x1="321.40" y1="207.05" x2="325.20" y2="207.05" stroke="#999" stroke-width="0.8" />
<line x1="321.40" y1="217.50" x2="325.20" y2="217.50" stroke="#999" stroke-width="0.8" />
<line x1="354.20" y1="251.04" x2="354.20" y2="264.62" stroke="#999" stroke-width="0.8" />
<line x1="352.30" y1="251.04" x2="356.10" y2="251.04" stroke="#999" stroke-width="0.8" />
<line x1="352.30" y1="264.62" x2="356.10" y2="264.62" stroke="#999" stroke-width="0.8" />
<line x1="384.80" y1="262.45" x2="384.80" y2="275.90" stroke="#999" stroke-width="0.8" />
<line x1="382.90" y1="262.45" x2="386.70" y2="262.45" stroke="#999" stroke-width="0.8" />
<line x1="382.90" y1="275.90" x2="386.70" y2="275.90" stroke="#999" stroke-width="0.8" />
<line x1="415.70" y1="264.22" x2="415.70" y2="277.93" stroke="#999" stroke-width="0.8" />
<line x1="413.80" y1="264.22" x2="417.60" y2="264.22" stroke="#999" stroke-width="0.8" />
<line x1="413.80" y1="277.93" x2="417.60" y2="277.93" stroke="#999" stroke-width="0.8" />
<line x1="446.40" y1="268.02" x2="446.40" y2="282.28" stroke="#999" stroke-width="0.8" />
<line x1="444.50" y1="268.02" x2="448.30" y2="268.02" stroke="#999" stroke-width="0.8" />
<line x1="444.50" y1="282.28" x2="448.30" y2="282.28" stroke="#999" stroke-width="0.8" />
<line x1="477.00" y1="262.72" x2="477.00" y2="276.71" stroke="#999" stroke-width="0.8" />
<line x1="475.10" y1="262.72" x2="478.90" y2="262.72" stroke="#999" stroke-width="0.8" />
<line x1="475.10" y1="276.71" x2="478.90" y2="276.71" stroke="#999" stroke-width="0.8" />
<rect x="321.50" y="210.27" width="3.6" height="3.6" fill="#999" stroke="#999" stroke-width="0.8"/>
<rect x="352.40" y="254.68" width="3.6" height="3.6" fill="#999" stroke="#999" stroke-width="0.8"/>
<rect x="383.00" y="266.08" width="3.6" height="3.6" fill="#999" stroke="#999" stroke-width="0.8"/>
<rect x="413.90" y="267.85" width="3.6" height="3.6" fill="#999" stroke="#999" stroke-width="0.8"/>
<rect x="444.60" y="271.65" width="3.6" height="3.6" fill="#999" stroke="#999" stroke-width="0.8"/>
<rect x="475.20" y="266.36" width="3.6" height="3.6" fill="#999" stroke="#999" stroke-width="0.8"/>
<polyline points="323.30,236.38 354.20,279.02 384.80,292.46 415.70,294.91 446.40,296.54 477.00,289.61" fill="none" stroke="#444" stroke-width="0.9" />
<line x1="323.30" y1="229.18" x2="323.30" y2="243.58" stroke="#444" stroke-width="0.8" />
<line x1="321.40" y1="229.18" x2="325.20" y2="229.18" stroke="#444" stroke-width="0.8" />
<line x1="321.40" y1="243.58" x2="325.20" y2="243.58" stroke="#444" stroke-width="0.8" />
<line x1="354.20" y1="272.50" x2="354.20" y2="285.81" stroke="#444" stroke-width="0.8" />
<line x1="352.30" y1="272.50" x2="356.10" y2="272.50" stroke="#444" stroke-width="0.8" />
<line x1="352.30" y1="285.81" x2="356.10" y2="285.81" stroke="#444" stroke-width="0.8" />
<line x1="384.80" y1="286.90" x2="384.80" y2="298.03" stroke="#444" stroke-width="0.8" />
<line x1="382.90" y1="286.90" x2="386.70" y2="286.90" stroke="#444" stroke-width="0.8" />
<line x1="382.90" y1="298.03" x2="386.70" y2="298.03" stroke="#444" stroke-width="0.8" />
<line x1="415.70" y1="287.85" x2="415.70" y2="299.80" stroke="#444" stroke-width="0.8" />
<line x1="413.80" y1="287.85" x2="417.60" y2="287.85" stroke="#444" stroke-width="0.8" />
<line x1="413.80" y1="299.80" x2="417.60" y2="299.80" stroke="#444" stroke-width="0.8" />
<line x1="446.40" y1="288.25" x2="446.40" y2="300.61" stroke="#444" stroke-width="0.8" />
<line x1="444.50" y1="288.25" x2="448.30" y2="288.25" stroke="#444" stroke-width="0.8" />
<line x1="444.50" y1="300.61" x2="448.30" y2="300.61" stroke="#444" stroke-width="0.8" />
<line x1="477.00" y1="281.60" x2="477.00" y2="294.23" stroke="#444" stroke-width="0.8" />
<line x1="475.10" y1="281.60" x2="478.90" y2="281.60" stroke="#444" stroke-width="0.8" />
<line x1="475.10" y1="294.23" x2="478.90" y2="294.23" stroke="#444" stroke-width="0.8" />
<circle cx="323.30" cy="236.38" r="2.1" fill="#fff" stroke="#333" stroke-width="1.0"/>
<circle cx="354.20" cy="279.02" r="2.1" fill="#fff" stroke="#333" stroke-width="1.0"/>
<circle cx="384.80" cy="292.46" r="2.1" fill="#fff" stroke="#333" stroke-width="1.0"/>
<circle cx="415.70" cy="294.91" r="2.1" fill="#fff" stroke="#333" stroke-width="1.0"/>
<circle cx="446.40" cy="296.54" r="2.1" fill="#fff" stroke="#333" stroke-width="1.0"/>
<circle cx="477.00" cy="289.61" r="2.1" fill="#fff" stroke="#333" stroke-width="1.0"/>
<polyline points="323.30,217.23 354.20,254.30 384.80,257.56 415.70,254.85 446.40,260.55 477.00,256.34" fill="none" stroke="#333" stroke-width="0.9" />
<line x1="323.30" y1="211.12" x2="323.30" y2="222.39" stroke="#333" stroke-width="0.8" />
<line x1="321.40" y1="211.12" x2="325.20" y2="211.12" stroke="#333" stroke-width="0.8" />
<line x1="321.40" y1="222.39" x2="325.20" y2="222.39" stroke="#333" stroke-width="0.8" />
<line x1="354.20" y1="244.39" x2="354.20" y2="263.81" stroke="#333" stroke-width="0.8" />
<line x1="352.30" y1="244.39" x2="356.10" y2="244.39" stroke="#333" stroke-width="0.8" />
<line x1="352.30" y1="263.81" x2="356.10" y2="263.81" stroke="#333" stroke-width="0.8" />
<line x1="384.80" y1="247.11" x2="384.80" y2="267.07" stroke="#333" stroke-width="0.8" />
<line x1="382.90" y1="247.11" x2="386.70" y2="247.11" stroke="#333" stroke-width="0.8" />
<line x1="382.90" y1="267.07" x2="386.70" y2="267.07" stroke="#333" stroke-width="0.8" />
<line x1="415.70" y1="244.39" x2="415.70" y2="265.44" stroke="#333" stroke-width="0.8" />
<line x1="413.80" y1="244.39" x2="417.60" y2="244.39" stroke="#333" stroke-width="0.8" />
<line x1="413.80" y1="265.44" x2="417.60" y2="265.44" stroke="#333" stroke-width="0.8" />
<line x1="446.40" y1="249.96" x2="446.40" y2="270.33" stroke="#333" stroke-width="0.8" />
<line x1="444.50" y1="249.96" x2="448.30" y2="249.96" stroke="#333" stroke-width="0.8" />
<line x1="444.50" y1="270.33" x2="448.30" y2="270.33" stroke="#333" stroke-width="0.8" />
<line x1="477.00" y1="247.38" x2="477.00" y2="265.85" stroke="#333" stroke-width="0.8" />
<line x1="475.10" y1="247.38" x2="478.90" y2="247.38" stroke="#333" stroke-width="0.8" />
<line x1="475.10" y1="265.85" x2="478.90" y2="265.85" stroke="#333" stroke-width="0.8" />
<rect x="321.50" y="215.43" width="3.6" height="3.6" fill="#000" stroke="#000" stroke-width="0.8"/>
<rect x="352.40" y="252.50" width="3.6" height="3.6" fill="#000" stroke="#000" stroke-width="0.8"/>
<rect x="383.00" y="255.76" width="3.6" height="3.6" fill="#000" stroke="#000" stroke-width="0.8"/>
<rect x="413.90" y="253.05" width="3.6" height="3.6" fill="#000" stroke="#000" stroke-width="0.8"/>
<rect x="444.60" y="258.75" width="3.6" height="3.6" fill="#000" stroke="#000" stroke-width="0.8"/>
<rect x="475.20" y="254.54" width="3.6" height="3.6" fill="#000" stroke="#000" stroke-width="0.8"/>
<path d="M354.20,238.09L354.20,241.49M352.73,238.94L355.67,240.64M352.73,240.64L355.67,238.94" stroke="#111" stroke-width="0.95" fill="none"/>
<circle cx="354.20" cy="239.79" r="0.8" fill="#000"/>
<path d="M384.80,240.81L384.80,244.21M383.33,241.66L386.27,243.36M383.33,243.36L386.27,241.66" stroke="#111" stroke-width="0.95" fill="none"/>
<circle cx="384.80" cy="242.51" r="0.8" fill="#000"/>
<path d="M415.70,238.09L415.70,241.49M414.23,238.94L417.17,240.64M414.23,240.64L417.17,238.94" stroke="#111" stroke-width="0.95" fill="none"/>
<circle cx="415.70" cy="239.79" r="0.8" fill="#000"/>
<path d="M446.40,243.66L446.40,247.06M444.93,244.51L447.87,246.21M444.93,246.21L447.87,244.51" stroke="#111" stroke-width="0.95" fill="none"/>
<circle cx="446.40" cy="245.36" r="0.8" fill="#000"/>
<path d="M477.00,241.08L477.00,244.48M475.53,241.93L478.47,243.63M475.53,243.63L478.47,241.93" stroke="#111" stroke-width="0.95" fill="none"/>
<circle cx="477.00" cy="242.78" r="0.8" fill="#000"/>
<line x1="297.90" y1="314.0" x2="309.90" y2="314.0" stroke="#444" stroke-width="0.8" />
<rect x="302.40" y="312.50" width="3.0" height="3.0" fill="#000" stroke="#000" stroke-width="0.8"/>
<text x="312.70" y="316.00" font-size="5.55" text-anchor="start" font-weight="normal" font-style="normal" fill="#222" stroke="#222" ><tspan font-style="italic">MCL-1</tspan> high (n=7) [<tspan font-style="italic">mean</tspan>]</text>
<line x1="297.90" y1="321.6" x2="309.90" y2="321.6" stroke="#555" stroke-width="0.8" />
<circle cx="303.90" cy="321.60" r="1.7" fill="#fff" stroke="#444" stroke-width="1.0"/>
<text x="312.70" y="323.60" font-size="5.55" text-anchor="start" font-weight="normal" font-style="normal" fill="#222" stroke="#222" ><tspan font-style="italic">MCL-1</tspan> low (n=13) [<tspan font-style="italic">mean</tspan>]</text>
<line x1="410.60" y1="313.7" x2="422.60" y2="313.7" stroke="#999" stroke-width="0.8" stroke-dasharray="1,1"/>
<rect x="415.10" y="312.20" width="3.0" height="3.0" fill="#999" stroke="#999" stroke-width="0.8"/>
<text x="425.40" y="315.70" font-size="5.55" text-anchor="start" font-weight="normal" font-style="normal" fill="#222" stroke="#222" ><tspan font-style="italic">MCL-1</tspan> high (n=10) [<tspan font-style="italic">median</tspan>]</text>
<line x1="410.60" y1="321.5" x2="422.60" y2="321.5" stroke="#999" stroke-width="0.8" stroke-dasharray="1,1"/>
<circle cx="416.60" cy="321.50" r="1.7" fill="#fff" stroke="#999" stroke-width="1.0"/>
<text x="425.40" y="323.50" font-size="5.55" text-anchor="start" font-weight="normal" font-style="normal" fill="#222" stroke="#222" ><tspan font-style="italic">MCL-1</tspan> low (n=10) [<tspan font-style="italic">median</tspan>]</text>
</g></svg>
</body></html>
